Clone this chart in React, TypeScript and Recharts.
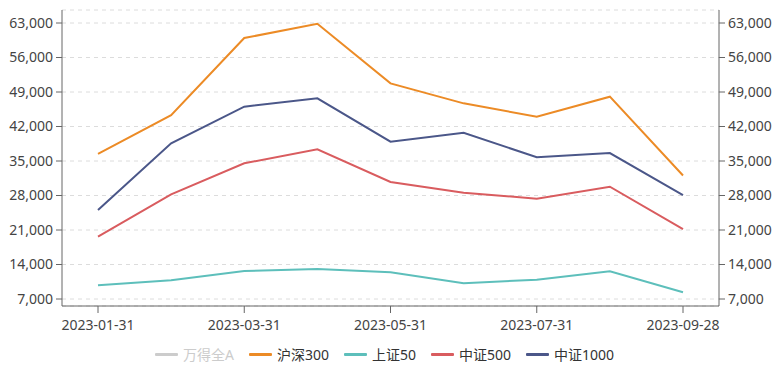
import React from "react";
import { LineChart, Line, XAxis, YAxis, CartesianGrid } from "recharts";

const dates = [
  "2023-01-31", "2023-02-28", "2023-03-31", "2023-04-28", "2023-05-31",
  "2023-06-30", "2023-07-31", "2023-08-31", "2023-09-28",
];
const hs300 = [36450, 44300, 59950, 62850, 50750, 46700, 44000, 48050, 32050];
const sz50 = [9780, 10790, 12680, 13090, 12420, 10180, 10920, 12620, 8360];
const zz500 = [19640, 28240, 34530, 37370, 30740, 28570, 27350, 29790, 21200];
const zz1000 = [25060, 38590, 46020, 47720, 38920, 40740, 35750, 36620, 28100];
const yTicks = [7000, 14000, 21000, 28000, 35000, 42000, 49000, 56000, 63000];

const legendItems = [
  { name: "万得全A", color: "#cccccc", hidden: true },
  { name: "沪深300", color: "#ec8b26", hidden: false },
  { name: "上证50", color: "#5dbfbb", hidden: false },
  { name: "中证500", color: "#d95c5f", hidden: false },
  { name: "中证1000", color: "#4b5789", hidden: false },
];

const data = dates.map((d, i) => ({
  date: d,
  hs300: hs300[i],
  sz50: sz50[i],
  zz500: zz500[i],
  zz1000: zz1000[i],
}));

const FONT = '"Noto Sans", "Noto Sans CJK SC", sans-serif';
const fmt = (v: number) => v.toLocaleString("en-US");
const tickStyle = { fontSize: 14, fill: "#444", fontFamily: FONT };

export default function App() {
  return (
    <div style={{ position: "absolute", left: 0, top: 0, width: 783, height: 366, background: "#fff", fontFamily: FONT }}>
      <LineChart
        width={783}
        height={366}
        data={data}
        margin={{ top: 10, right: 0, left: 0, bottom: 30 }}
      >
        <CartesianGrid yAxisId="left" vertical={false} stroke="#dcdcdc" strokeDasharray="4 4" />
        <XAxis
          dataKey="date"
          interval={1}
          padding={{ left: 36, right: 36 }}
          height={30}
          tick={tickStyle}
          tickSize={7}
          tickMargin={7}
          axisLine={{ stroke: "#666" }}
          tickLine={{ stroke: "#666" }}
        />
        <YAxis
          yAxisId="left"
          orientation="left"
          width={62}
          domain={[5580, 65640]}
          ticks={yTicks}
          tickFormatter={fmt}
          tick={tickStyle}
          tickSize={6}
          tickMargin={3}
          axisLine={{ stroke: "#666" }}
          tickLine={{ stroke: "#666" }}
          allowDataOverflow
        />
        <YAxis
          yAxisId="right"
          orientation="right"
          width={64}
          domain={[5580, 65640]}
          ticks={yTicks}
          tickFormatter={fmt}
          tick={tickStyle}
          tickSize={6}
          tickMargin={3}
          axisLine={{ stroke: "#666" }}
          tickLine={{ stroke: "#666" }}
          allowDataOverflow
        />
        <Line yAxisId="left" type="linear" dataKey="hs300" stroke="#ec8b26" strokeWidth={2} dot={false} isAnimationActive={false} />
        <Line yAxisId="left" type="linear" dataKey="sz50" stroke="#5dbfbb" strokeWidth={2} dot={false} isAnimationActive={false} />
        <Line yAxisId="left" type="linear" dataKey="zz500" stroke="#d95c5f" strokeWidth={2} dot={false} isAnimationActive={false} />
        <Line yAxisId="left" type="linear" dataKey="zz1000" stroke="#4b5789" strokeWidth={2} dot={false} isAnimationActive={false} />
      </LineChart>
      <div
        style={{
          position: "absolute",
          top: 344,
          left: 155,
          display: "flex",
          alignItems: "center",
          height: 20,
          fontSize: 14,
          fontFamily: FONT,
        }}
      >
        {legendItems.map((it) => (
          <div key={it.name} style={{ display: "flex", alignItems: "center", marginRight: 15 }}>
            <div style={{ width: 23, height: 3, background: it.color, borderRadius: 1 }} />
            <span style={{ marginLeft: 5, color: it.hidden ? "#cccccc" : "#333" }}>{it.name}</span>
          </div>
        ))}
      </div>
    </div>
  );
}
